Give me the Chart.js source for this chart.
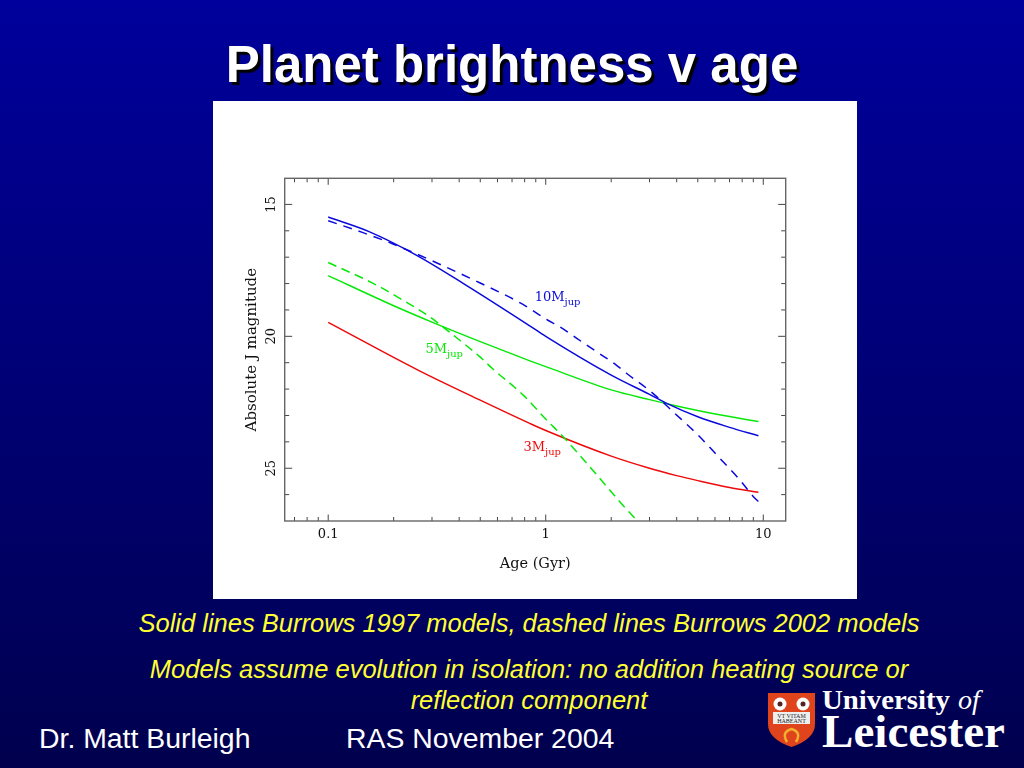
<!DOCTYPE html>
<html>
<head>
<meta charset="utf-8">
<title>Planet brightness v age</title>
<script src="https://cdn.jsdelivr.net/npm/chart.js@4"></script>
<style>
  html,body{margin:0;padding:0;}
  body{width:1024px;height:768px;overflow:hidden;position:relative;font-family:"Liberation Sans",sans-serif;
    background:linear-gradient(#00009c,#00004e);}
  .t{position:absolute;white-space:nowrap;}
  #title{left:0;width:1024px;top:35px;text-align:center;color:#fff;font-weight:bold;font-size:51px;line-height:60px;text-shadow:3px 3px 1px #000;}
  .note{left:0;width:1058px;text-align:center;color:#ffff33;font-style:italic;font-size:25.5px;line-height:30px;}
  .foot{color:#fff;font-size:28.4px;line-height:30px;}
  #box{position:absolute;left:213px;top:101px;width:644px;height:498px;background:#fff;}
  #logo{position:absolute;left:768px;top:690px;}
</style>
</head>
<body>
<div class="t" id="title">Planet brightness v age</div>
<div id="box"><canvas id="ageChart" width="644" height="498"></canvas></div>
<div class="t note" style="top:608px">Solid lines Burrows 1997 models, dashed lines Burrows 2002 models</div>
<div class="t note" style="top:654px">Models assume evolution in isolation: no addition heating source or</div>
<div class="t note" style="top:685px">reflection component</div>
<div class="t foot" style="left:39px;top:723px">Dr. Matt Burleigh</div>
<div class="t foot" style="left:346px;top:723px">RAS November 2004</div>
<svg id="logo" width="245" height="60" viewBox="0 0 245 60">
  <path d="M0 3H47V34Q47 49 23.5 57Q0 49 0 34Z" fill="#e0441c"/>
  <circle cx="12" cy="14" r="6.5" fill="#fff"/><circle cx="12" cy="14" r="2.5" fill="#522"/>
  <circle cx="35" cy="14" r="6.5" fill="#fff"/><circle cx="35" cy="14" r="2.5" fill="#522"/>
  <rect x="5" y="22" width="37" height="12" fill="#eee"/>
  <text x="23.5" y="27.5" text-anchor="middle" font-family="Liberation Serif" font-size="6" fill="#222">VT VITAM</text>
  <text x="23.5" y="33" text-anchor="middle" font-family="Liberation Serif" font-size="6" fill="#222">HABEANT</text>
  <path d="M19 52Q13 42 23.5 39Q34 42 28 52" fill="none" stroke="#f0b030" stroke-width="2.5"/>
  <text x="54" y="19" font-family="Liberation Serif" font-weight="bold" font-size="27" textLength="128" lengthAdjust="spacingAndGlyphs" fill="#fff">University</text>
  <text x="190" y="19" font-family="Liberation Serif" font-style="italic" font-size="28" fill="#fff">of</text>
  <text x="54" y="56.5" font-family="Liberation Serif" font-weight="bold" font-size="46" textLength="183" lengthAdjust="spacingAndGlyphs" fill="#fff">Leicester</text>
</svg>
<script>
const blueSolidAge = [0.1, 0.155, 0.254, 0.417, 0.844, 1, 2, 3, 3.6, 5, 7, 9.5];
const blueSolidMag = [15.48, 16.04, 16.92, 17.99, 19.6, 20.0, 21.47, 22.2, 22.54, 23.05, 23.45, 23.77];
const blueDashAge = [0.1, 0.1445, 0.1986, 0.3143, 0.497, 0.786, 1, 1.16, 1.54, 2.11, 2.35, 3.11, 3.92, 5.01, 6.31, 7.8, 8.99, 9.6];
const blueDashMag = [15.62, 16.07, 16.5, 17.21, 17.97, 18.79, 19.34, 19.64, 20.33, 21.09, 21.4, 22.16, 22.92, 23.74, 24.62, 25.44, 26.07, 26.3];
const greenSolidAge = [0.1, 0.2, 0.3, 0.5, 0.84, 1, 2, 3, 4, 5, 7, 9.5];
const greenSolidMag = [17.7, 18.84, 19.46, 20.2, 20.92, 21.15, 22.03, 22.4, 22.64, 22.81, 23.04, 23.23];
const greenDashAge = [0.1, 0.1607, 0.2133, 0.2926, 0.375, 0.497, 0.572, 0.786, 1.025, 1.16, 1.43, 1.77, 2.19, 2.57];
const greenDashMag = [17.2, 17.99, 18.56, 19.26, 19.95, 20.77, 21.24, 22.22, 23.23, 23.67, 24.5, 25.38, 26.27, 26.9];
const redAge = [0.1, 0.2587, 0.497, 0.844, 1, 2, 3, 4, 5, 7, 9.5];
const redMag = [19.47, 21.28, 22.41, 23.3, 23.57, 24.54, 25, 25.28, 25.47, 25.73, 25.91];

const xTicks = [0.07, 0.08, 0.09, 0.1, 0.2, 0.3, 0.4, 0.5, 0.6, 0.7, 0.8, 0.9, 1, 2, 3, 4, 5, 6, 7, 8, 9, 10];
const xLabels = [0.1, 1, 10];
const yTicks = [15, 16, 17, 18, 19, 20, 21, 22, 23, 24, 25, 26];
const yLabels = [15, 20, 25];

const curveNames = ["10M", "5M", "3M"];
const curveColors = ["#0a0adc", "#08e808", "#ee0a0a"];
const curveLabelAge = [0.89, 0.28, 0.79];
const curveLabelMag = [18.47, 20.44, 24.15];

const pts = (xs, ys) => xs.map((x, i) => ({ x: x, y: ys[i] }));
const line = (xs, ys, color, dash) => ({
  data: pts(xs, ys), borderColor: color, borderWidth: 1.5, borderDash: dash,
  pointRadius: 0, cubicInterpolationMode: "monotone", fill: false, showLine: true
});

// PGPLOT style frame: box on all four sides with ticks pointing inwards
const frame = {
  id: "frame",
  afterDatasetsDraw(chart){
    const c = chart.ctx, a = chart.chartArea, sx = chart.scales.x, sy = chart.scales.y;
    c.save();
    c.strokeStyle = "#444";
    c.lineWidth = 1;
    c.beginPath();
    sx.ticks.forEach(t => {
      const p = sx.getPixelForValue(t.value), l = xLabels.includes(t.value) ? 6.5 : 4;
      c.moveTo(p, a.bottom); c.lineTo(p, a.bottom - l);
      c.moveTo(p, a.top); c.lineTo(p, a.top + l);
    });
    sy.ticks.forEach(t => {
      const p = sy.getPixelForValue(t.value), l = yLabels.includes(t.value) ? 7.5 : 4.5;
      c.moveTo(a.left, p); c.lineTo(a.left + l, p);
      c.moveTo(a.right, p); c.lineTo(a.right - l, p);
    });
    c.stroke();
    c.strokeStyle = "#666";
    c.lineWidth = 1.4;
    c.strokeRect(a.left, a.top, a.right - a.left, a.bottom - a.top);

    c.textBaseline = "alphabetic";
    curveNames.forEach((name, i) => {
      const x = sx.getPixelForValue(curveLabelAge[i]), y = sy.getPixelForValue(curveLabelMag[i]) + 5;
      c.fillStyle = curveColors[i];
      c.font = "13px 'DejaVu Serif'";
      c.fillText(name, x, y);
      const w = c.measureText(name).width;
      c.font = "10px 'DejaVu Serif'";
      c.fillText("jup", x + w, y + 4);
    });
    c.restore();
  }
};

new Chart(document.getElementById("ageChart"), {
  type: "scatter",
  data: { datasets: [
    line(blueSolidAge, blueSolidMag, curveColors[0], []),
    line(blueDashAge, blueDashMag, curveColors[0], [9, 7]),
    line(greenSolidAge, greenSolidMag, curveColors[1], []),
    line(greenDashAge, greenDashMag, curveColors[1], [9, 5.6]),
    line(redAge, redMag, curveColors[2], [])
  ] },
  options: {
    responsive: false,
    animation: false,
    devicePixelRatio: 1,
    layout: { padding: { left: 30, right: 71.3, top: 77.3, bottom: 26 } },
    plugins: { legend: { display: false }, tooltip: { enabled: false } },
    scales: {
      x: {
        type: "logarithmic", min: 0.0631, max: 12.68,
        afterBuildTicks: s => { s.ticks = xTicks.map(v => ({ value: v })); },
        afterFit: s => { s.height = 52; },
        grid: { display: false, drawTicks: false },
        border: { display: false },
        ticks: { autoSkip: false, maxRotation: 0, padding: 6, color: "#111",
          font: { family: "DejaVu Serif", size: 13 },
          callback: v => xLabels.includes(v) ? String(v) : "" },
        title: { display: true, text: "Age (Gyr)", color: "#111", padding: 0,
          font: { family: "DejaVu Serif", size: 14.5 } }
      },
      y: {
        type: "linear", reverse: true, min: 14.01, max: 27,
        afterBuildTicks: s => { s.ticks = yTicks.map(v => ({ value: v })); },
        afterFit: s => { s.width = 41.7; },
        grid: { display: false, drawTicks: false },
        border: { display: false },
        ticks: { autoSkip: false, minRotation: 90, maxRotation: 90, padding: 4.5, crossAlign: "center", color: "#111",
          font: { family: "DejaVu Serif", size: 13 },
          callback: v => yLabels.includes(v) ? String(v) : "" },
        title: { display: true, text: "Absolute J magnitude", color: "#111", padding: 0,
          font: { family: "DejaVu Serif", size: 15 } }
      }
    }
  },
  plugins: [frame]
});
</script>
</body>
</html>
